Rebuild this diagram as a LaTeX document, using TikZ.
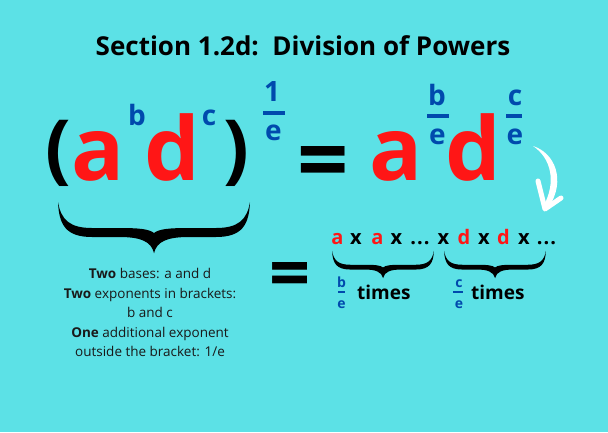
\documentclass[tikz,border=0pt]{standalone}
\usepackage{fontspec}
\setmainfont{Open Sans}
\definecolor{bg}{HTML}{5CE1E6}
\definecolor{pred}{HTML}{FF1616}
\definecolor{pblue}{HTML}{004AAD}
\newcommand\fs[1]{\fontsize{#1}{#1}\selectfont}
\newcommand\calbrace[3]{%
  \begin{scope}[shift={(#1,#2)},scale=#3]
    \foreach \s in {1,-1}{
    \fill[black,xscale=\s] (-96,-51) .. controls (-95,-28) and (-88,-16) .. (-62,-16) -- (-35,-16)
      .. controls (-14,-16) and (-3,-12) .. (0,0) -- (0,-20)
      .. controls (-5,-24) and (-15,-25) .. (-35,-25) -- (-62,-25)
      .. controls (-84,-25) and (-93,-33) .. (-96,-51) -- cycle;}
  \end{scope}}
\tikzset{
  t/.style={inner sep=0pt, anchor=base, font=\bfseries},
  big/.style={t, text=pred, font=\bfseries\fs{88}},
  ex/.style={t, text=pblue, font=\bfseries\fs{28}},
  exs/.style={t, text=pblue, font=\bfseries\fs{14}},
  bar/.style={fill=pblue},
  sq/.style={t, font=\bfseries\fs{20}},
  sqr/.style={sq, text=pred},
  note/.style={inner sep=0pt, anchor=base, font=\fs{13.5}, text=black!90}
}
\begin{document}
\begin{tikzpicture}[x=1pt,y=-1pt]
\fill[bg] (0,0) rectangle (608,432);
\useasboundingbox (0,0) rectangle (608,432);
% title
\node[t, font=\bfseries\fs{26}] (title) at (303,55) {Section 1.2d:\ \ Division of Powers};
% left expression
\node[t, font=\bfseries\fs{76}] (lp) at (58,174) {(};
\node[big] (a1) at (98,180) {a};
\node[ex] (b1) at (137,125) {b};
\node[big] (d1) at (172,180) {d};
\node[ex] (c1) at (209,125) {c};
\node[t, font=\bfseries\fs{76}] (rp) at (236,174) {)};
\node[ex] (one) at (272,101) {1};
\fill[bar] (263,111) rectangle (285,115);
\node[ex] (e0) at (273.5,140) {e};
\node[t, font=\bfseries\fs{90}] (eq1) at (323.5,191) {=};
% right expression
\node[big] (a2) at (396.5,180) {a};
\node[ex] (b2) at (437,105) {b};
\fill[bar] (427,114) rectangle (449,118);
\node[ex] (e2) at (437.5,144) {e};
\node[big] (d2) at (473,180) {d};
\node[ex] (c2) at (515,105) {c};
\fill[bar] (506,114) rectangle (522,118);
\node[ex] (e3) at (515,144) {e};
% white arrow
\fill[white] (533,146) .. controls (555,153) and (566,180) .. (549,207) -- (543,207)
  .. controls (557,182) and (551,158) .. (533,146) -- cycle;
\draw[white, line width=5pt, line cap=round, line join=round] (538,181) -- (545,209) -- (561,198);
% big brace
\calbrace{154}{253}{1}
\node[note] (n1) at (150,278) {\textbf{Two} bases: a and d};
\node[note] (n2) at (150,298) {\textbf{Two} exponents in brackets:};
\node[note] (n3) at (150,317) {b and c};
\node[note] (n4) at (150,337) {\textbf{One} additional exponent};
\node[note] (n5) at (150,356) {outside the bracket: 1/e};
% second equals
\node[t, font=\bfseries\fs{72}] (eq2) at (290,298) {=};
% expansion
\node[sqr] (s1) at (337.5,244) {a};
\node[sq]  (s2) at (356,244) {x};
\node[sqr] (s3) at (377.5,244) {a};
\node[sq]  (s4) at (396.5,244) {x};
\node[sq]  (s5) at (420,244) {.\kern1pt.\kern1pt.};
\node[sq]  (s6) at (443.5,244) {x};
\node[sqr] (s7) at (464,244) {d};
\node[sq]  (s8) at (484,244) {x};
\node[sqr] (s9) at (503.5,244) {d};
\node[sq]  (s10) at (524,244) {x};
\node[sq]  (s11) at (546.5,244) {.\kern1pt.\kern1pt.};
\calbrace{383}{278}{0.53}
\calbrace{495}{278}{0.53}
\node[exs] (b3) at (341.5,287) {b};
\fill[bar] (338,291) rectangle (345,293);
\node[exs] (e4) at (341.5,308) {e};
\node[t, anchor=base west, font=\bfseries\fs{19}] (tm1) at (357,299) {times};
\node[exs] (c3) at (459,287) {c};
\fill[bar] (453,291) rectangle (463,293);
\node[exs] (e5) at (459,308) {e};
\node[t, anchor=base west, font=\bfseries\fs{19}] (tm2) at (471,299) {times};
\end{tikzpicture}
\end{document}
